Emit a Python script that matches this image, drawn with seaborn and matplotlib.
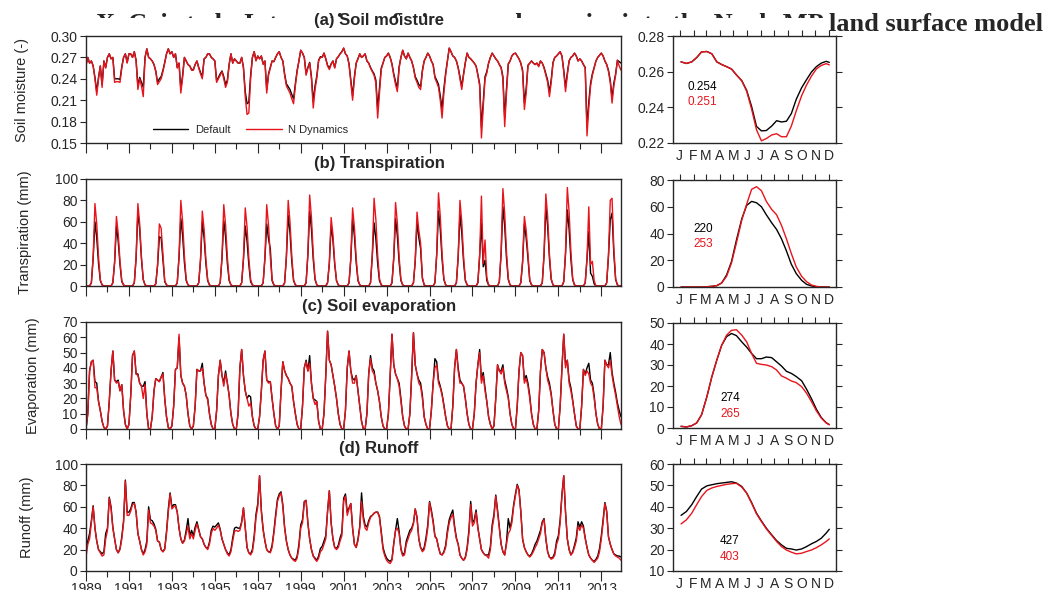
import numpy as np
import pandas as pd
import matplotlib
matplotlib.use("Agg")
import matplotlib.pyplot as plt
import seaborn as sns
from matplotlib.patches import Rectangle

# ---- data ---------------------------------------------------------------
years = list(range(1989, 2014))
month_letters = ["J", "F", "M", "A", "M", "J", "J", "A", "S", "O", "N", "D"]
month_mid_days = [15, 46, 74, 105, 135, 166, 196, 227, 258, 288, 319, 349]
runs = ["Default", "N Dynamics"]

header = "X. Cai et al.: Integration of nitrogen dynamics into the Noah-MP land surface model"
titles = ["(a) Soil moisture", "(b) Transpiration", "(c) Soil evaporation", "(d) Runoff"]
ylabels = ["Soil moisture (-)", "Transpiration (mm)", "Evaporation (mm)", "Runoff (mm)"]
annual_default = ["0.254", "220", "274", "427"]
annual_ndyn = ["0.251", "253", "265", "403"]

# monthly series, Jan 1989 - Dec 2013 (one row per year)
sm_default = [
    .260, .270, .262, .265, .258, .242, .222, .242, .258, .232, .265, .256,
    .270, .275, .268, .270, .240, .240, .240, .239, .257, .270, .275, .263,
    .275, .275, .270, .278, .266, .230, .242, .235, .228, .270, .282, .270,
    .268, .265, .260, .251, .235, .240, .243, .252, .263, .275, .282, .275,
    .278, .270, .275, .256, .262, .225, .245, .270, .265, .260, .258, .253,
    .253, .260, .265, .256, .249, .243, .268, .270, .275, .275, .270, .268,
    .265, .237, .242, .247, .251, .243, .232, .238, .260, .275, .262, .268,
    .265, .262, .262, .270, .256, .222, .205, .207, .245, .270, .278, .266,
    .272, .268, .272, .261, .265, .225, .247, .256, .265, .264, .270, .275,
    .278, .270, .265, .247, .233, .229, .225, .218, .212, .233, .252, .265,
    .280, .276, .270, .247, .256, .263, .243, .208, .230, .244, .266, .271,
    .270, .276, .268, .259, .255, .261, .265, .256, .268, .271, .275, .278,
    .283, .275, .272, .261, .238, .216, .243, .262, .268, .275, .270, .272,
    .275, .265, .262, .256, .251, .247, .238, .198, .226, .255, .262, .270,
    .272, .276, .270, .261, .247, .236, .227, .257, .270, .280, .272, .268,
    .276, .270, .265, .256, .243, .238, .232, .229, .252, .265, .270, .276,
    .272, .265, .260, .243, .238, .232, .216, .198, .226, .248, .265, .283,
    .278, .272, .270, .265, .256, .243, .229, .247, .263, .276, .270, .268,
    .265, .262, .258, .246, .233, .172, .208, .243, .250, .262, .270, .276,
    .272, .268, .265, .260, .256, .243, .185, .226, .261, .265, .272, .275,
    .276, .272, .268, .262, .252, .206, .226, .259, .262, .265, .262, .260,
    .262, .258, .265, .262, .256, .247, .238, .221, .239, .263, .270, .272,
    .275, .278, .272, .252, .228, .248, .265, .270, .272, .276, .272, .265,
    .268, .265, .260, .256, .172, .208, .234, .247, .256, .265, .270, .273,
    .276, .272, .265, .260, .252, .238, .213, .234, .247, .266, .264, .262,
]
sm_ndyn = [
    .258, .270, .262, .265, .258, .240, .217, .240, .258, .228, .265, .255,
    .270, .275, .268, .270, .235, .236, .236, .235, .255, .270, .275, .262,
    .275, .275, .270, .278, .265, .225, .240, .230, .215, .270, .282, .270,
    .268, .265, .260, .250, .232, .236, .240, .250, .262, .275, .282, .275,
    .278, .270, .275, .255, .262, .220, .242, .270, .265, .260, .258, .252,
    .252, .260, .265, .255, .247, .240, .268, .270, .275, .275, .270, .268,
    .265, .235, .240, .245, .250, .240, .228, .235, .260, .275, .262, .268,
    .265, .262, .262, .270, .255, .215, .190, .192, .240, .270, .278, .265,
    .272, .268, .272, .260, .265, .220, .245, .255, .265, .264, .270, .275,
    .278, .270, .265, .245, .230, .225, .220, .212, .205, .230, .250, .265,
    .280, .276, .270, .245, .255, .262, .240, .199, .225, .241, .265, .270,
    .270, .276, .268, .258, .253, .260, .265, .255, .268, .271, .275, .278,
    .283, .275, .272, .260, .235, .210, .240, .262, .268, .275, .270, .272,
    .275, .265, .262, .255, .250, .245, .234, .185, .220, .253, .262, .270,
    .272, .276, .270, .260, .245, .232, .222, .255, .270, .280, .272, .268,
    .276, .270, .265, .255, .241, .235, .228, .225, .250, .265, .270, .276,
    .272, .265, .260, .241, .235, .228, .210, .185, .220, .245, .265, .283,
    .278, .272, .270, .265, .255, .240, .225, .245, .262, .276, .270, .268,
    .265, .262, .258, .245, .230, .157, .200, .240, .248, .262, .270, .276,
    .272, .268, .265, .260, .255, .240, .173, .220, .260, .265, .272, .275,
    .276, .272, .268, .262, .250, .197, .220, .258, .262, .265, .262, .260,
    .262, .257, .265, .262, .255, .245, .235, .215, .235, .262, .270, .272,
    .275, .278, .272, .250, .222, .245, .265, .270, .272, .276, .272, .265,
    .268, .265, .260, .255, .160, .200, .230, .245, .255, .265, .270, .273,
    .276, .272, .265, .260, .250, .235, .206, .230, .245, .266, .258, .252,
]

tr_default = [
    0, 0, 0, 3, 26, 60, 45, 21, 5, 1, 0, 0,
    0, 0, 0, 3, 22, 56, 42, 20, 4, 1, 0, 0,
    0, 0, 0, 3, 26, 70, 53, 25, 6, 1, 0, 0,
    0, 0, 0, 2, 19, 46, 45, 25, 4, 1, 0, 0,
    0, 0, 0, 3, 27, 63, 47, 22, 5, 1, 0, 0,
    0, 0, 0, 3, 24, 60, 45, 21, 5, 1, 0, 0,
    0, 0, 0, 3, 26, 61, 46, 21, 5, 1, 0, 0,
    0, 0, 0, 3, 25, 56, 42, 20, 4, 1, 0, 0,
    0, 0, 0, 3, 26, 58, 44, 35, 5, 1, 0, 0,
    0, 0, 0, 3, 27, 66, 50, 23, 5, 1, 0, 0,
    0, 0, 0, 3, 29, 70, 53, 25, 6, 1, 0, 0,
    0, 0, 0, 3, 21, 57, 43, 20, 5, 1, 0, 0,
    0, 0, 0, 3, 25, 62, 47, 22, 5, 1, 0, 0,
    0, 0, 0, 3, 28, 59, 44, 21, 5, 1, 0, 0,
    0, 0, 0, 3, 26, 63, 47, 22, 5, 1, 0, 0,
    0, 0, 0, 3, 23, 60, 45, 35, 7, 1, 0, 0,
    0, 0, 0, 3, 29, 70, 53, 25, 6, 1, 0, 0,
    0, 0, 0, 3, 27, 67, 50, 23, 5, 1, 0, 0,
    0, 0, 0, 3, 28, 59, 18, 24, 5, 1, 0, 0,
    0, 0, 0, 4, 30, 74, 56, 26, 6, 1, 0, 0,
    0, 0, 0, 3, 22, 58, 45, 26, 5, 1, 0, 0,
    0, 0, 0, 3, 29, 74, 56, 26, 6, 1, 0, 0,
    0, 0, 0, 4, 30, 71, 53, 25, 6, 1, 0, 0,
    0, 0, 0, 3, 25, 51, 12, 9, 2, 0, 0, 0,
    0, 0, 0, 3, 28, 62, 68, 30, 6, 1, 0, 0,
]
tr_ndyn = [
    0, 0, 0, 3, 27, 77, 58, 27, 6, 1, 0, 0,
    0, 0, 0, 3, 23, 65, 49, 23, 5, 1, 0, 0,
    0, 0, 0, 3, 27, 77, 58, 27, 6, 1, 0, 0,
    0, 0, 0, 2, 20, 58, 54, 30, 5, 1, 0, 0,
    0, 0, 0, 3, 28, 80, 60, 28, 6, 1, 0, 0,
    0, 0, 0, 3, 25, 70, 53, 25, 6, 1, 0, 0,
    0, 0, 0, 3, 27, 76, 57, 27, 6, 1, 0, 0,
    0, 0, 0, 3, 26, 73, 55, 26, 6, 1, 0, 0,
    0, 0, 0, 3, 27, 76, 57, 27, 6, 1, 0, 0,
    0, 0, 0, 3, 28, 80, 60, 28, 6, 1, 0, 0,
    0, 0, 0, 3, 30, 85, 64, 30, 7, 1, 0, 0,
    0, 0, 0, 3, 22, 64, 48, 22, 5, 1, 0, 0,
    0, 0, 0, 3, 26, 73, 55, 26, 6, 1, 0, 0,
    0, 0, 0, 3, 29, 82, 62, 29, 7, 1, 0, 0,
    0, 0, 0, 3, 27, 78, 59, 27, 6, 1, 0, 0,
    0, 0, 0, 3, 24, 69, 52, 40, 8, 1, 0, 0,
    0, 0, 0, 3, 30, 87, 65, 30, 7, 1, 0, 0,
    0, 0, 0, 3, 28, 80, 60, 28, 6, 1, 0, 0,
    0, 0, 0, 3, 29, 84, 21, 43, 8, 1, 0, 0,
    0, 0, 0, 4, 32, 91, 68, 32, 7, 1, 0, 0,
    0, 0, 0, 3, 23, 65, 52, 30, 6, 1, 0, 0,
    0, 0, 0, 3, 30, 86, 65, 30, 7, 1, 0, 0,
    0, 0, 0, 4, 32, 92, 69, 32, 7, 1, 0, 0,
    0, 0, 0, 3, 26, 74, 20, 23, 5, 0, 0, 0,
    0, 0, 0, 3, 29, 80, 82, 35, 7, 1, 0, 0,
]

ev_default = [
    0, 10, 38, 44, 45, 31, 30, 18, 12, 5, 1, 0,
    2, 18, 38, 51, 32, 31, 32, 25, 29, 12, 3, 0,
    3, 22, 48, 51, 36, 36, 30, 28, 28, 31, 10, 0,
    0, 8, 25, 33, 32, 31, 34, 37, 20, 8, 1, 0,
    2, 15, 39, 40, 60, 35, 30, 28, 22, 10, 2, 0,
    2, 15, 39, 38, 38, 43, 30, 22, 20, 10, 3, 0,
    0, 12, 35, 45, 35, 30, 38, 30, 22, 10, 3, 0,
    0, 10, 40, 52, 35, 25, 20, 22, 21, 8, 2, 0,
    0, 8, 25, 45, 51, 32, 31, 31, 20, 10, 2, 0,
    2, 25, 44, 38, 35, 33, 30, 28, 18, 10, 3, 0,
    0, 15, 40, 45, 38, 48, 30, 20, 19, 18, 5, 0,
    0, 10, 35, 64, 45, 42, 35, 28, 20, 10, 3, 0,
    0, 12, 40, 51, 38, 33, 32, 35, 25, 15, 5, 0,
    0, 10, 36, 48, 40, 38, 30, 25, 18, 8, 2, 0,
    0, 10, 35, 62, 42, 36, 33, 30, 20, 8, 2, 0,
    0, 10, 35, 63, 42, 36, 32, 30, 22, 8, 3, 0,
    0, 12, 30, 46, 44, 32, 28, 23, 16, 8, 2, 0,
    0, 15, 40, 52, 40, 32, 30, 28, 20, 10, 3, 0,
    0, 10, 30, 42, 52, 32, 37, 27, 18, 8, 3, 0,
    2, 20, 42, 38, 38, 42, 32, 27, 21, 10, 3, 0,
    0, 15, 38, 50, 48, 32, 35, 30, 22, 10, 3, 0,
    0, 12, 38, 52, 50, 40, 34, 30, 23, 12, 3, 0,
    0, 15, 40, 62, 42, 45, 32, 27, 19, 10, 2, 0,
    0, 15, 39, 36, 40, 43, 32, 30, 22, 10, 3, 0,
    0, 15, 45, 42, 42, 50, 37, 30, 24, 17, 12, 8,
]
ev_ndyn = [
    0, 10, 38, 44, 45, 27, 27, 18, 12, 5, 1, 0,
    2, 18, 38, 51, 32, 30, 31, 25, 29, 12, 3, 0,
    3, 22, 48, 51, 36, 35, 30, 28, 20, 29, 10, 0,
    0, 8, 25, 33, 32, 31, 34, 36, 20, 8, 1, 0,
    2, 15, 39, 40, 62, 35, 30, 28, 22, 10, 2, 0,
    2, 15, 39, 38, 38, 40, 30, 22, 19, 10, 3, 0,
    0, 12, 35, 45, 35, 28, 36, 30, 22, 10, 3, 0,
    0, 10, 40, 52, 35, 25, 20, 15, 17, 8, 2, 0,
    0, 8, 25, 45, 51, 32, 30, 31, 20, 10, 2, 0,
    2, 25, 44, 38, 35, 33, 30, 28, 18, 10, 3, 0,
    0, 15, 40, 44, 38, 43, 30, 20, 16, 18, 5, 0,
    0, 10, 35, 64, 45, 42, 35, 28, 20, 10, 3, 0,
    0, 12, 40, 51, 38, 30, 30, 35, 25, 15, 5, 0,
    0, 10, 36, 46, 38, 36, 30, 25, 18, 8, 2, 0,
    0, 10, 35, 62, 42, 36, 33, 28, 18, 8, 2, 0,
    0, 10, 35, 63, 42, 36, 30, 28, 20, 8, 3, 0,
    0, 12, 30, 40, 42, 30, 27, 22, 15, 8, 2, 0,
    0, 15, 40, 52, 38, 30, 30, 28, 20, 10, 3, 0,
    0, 10, 30, 42, 50, 30, 35, 25, 18, 8, 3, 0,
    2, 20, 42, 38, 36, 40, 30, 25, 20, 10, 3, 0,
    0, 15, 38, 50, 48, 30, 33, 28, 20, 10, 3, 0,
    0, 12, 38, 52, 50, 40, 32, 28, 22, 12, 3, 0,
    0, 15, 40, 62, 40, 45, 30, 25, 18, 10, 2, 0,
    0, 15, 39, 35, 38, 36, 30, 28, 20, 10, 3, 0,
    0, 15, 45, 42, 40, 45, 35, 28, 22, 15, 8, 3,
]

ro_default = [
    20, 28, 35, 47, 61, 40, 28, 20, 18, 16, 18, 35,
    40, 69, 60, 41, 30, 20, 17, 21, 32, 47, 85, 55,
    55, 58, 64, 64, 55, 35, 28, 20, 16, 20, 28, 60,
    48, 47, 44, 39, 28, 27, 20, 18, 21, 37, 58, 73,
    60, 62, 62, 55, 40, 30, 26, 29, 38, 49, 33, 38,
    33, 41, 46, 39, 32, 30, 25, 22, 21, 27, 38, 42,
    41, 43, 45, 39, 30, 25, 20, 17, 15, 20, 31, 40,
    41, 40, 40, 46, 59, 40, 22, 17, 16, 20, 33, 53,
    63, 89, 57, 39, 28, 20, 18, 18, 24, 37, 53, 67,
    72, 74, 62, 41, 28, 20, 15, 12, 11, 10, 14, 25,
    43, 48, 65, 66, 45, 30, 20, 14, 12, 10, 14, 21,
    23, 28, 33, 56, 75, 45, 30, 22, 21, 24, 31, 36,
    68, 72, 55, 59, 63, 40, 25, 22, 30, 42, 73, 51,
    43, 41, 47, 51, 52, 54, 55, 55, 51, 37, 22, 16,
    12, 10, 9, 11, 26, 38, 49, 37, 21, 15, 17, 28,
    33, 38, 40, 45, 58, 50, 30, 22, 19, 22, 31, 43,
    65, 57, 47, 33, 30, 22, 16, 15, 18, 24, 38, 48,
    53, 57, 42, 31, 25, 15, 12, 10, 13, 22, 38, 65,
    45, 48, 57, 41, 30, 20, 17, 15, 15, 15, 23, 43,
    53, 71, 57, 41, 25, 18, 15, 27, 49, 40, 48, 62,
    72, 81, 76, 56, 30, 22, 18, 15, 14, 16, 20, 25,
    28, 33, 38, 46, 49, 30, 18, 13, 12, 13, 17, 28,
    33, 48, 72, 89, 55, 30, 20, 15, 18, 24, 31, 46,
    41, 46, 42, 31, 22, 15, 12, 10, 9, 11, 14, 21,
    33, 48, 64, 56, 32, 25, 20, 16, 15, 14, 14, 13,
]
ro_ndyn = [
    13, 25, 30, 45, 60, 40, 28, 20, 17, 14, 15, 30,
    38, 68, 58, 40, 30, 20, 17, 20, 30, 45, 84, 52,
    52, 56, 62, 63, 55, 35, 28, 20, 15, 18, 25, 57,
    45, 44, 42, 38, 28, 27, 20, 18, 20, 35, 55, 72,
    58, 60, 61, 55, 40, 30, 26, 28, 35, 42, 30, 35,
    30, 38, 44, 38, 32, 30, 25, 22, 20, 25, 35, 40,
    38, 40, 43, 38, 30, 25, 20, 16, 14, 18, 28, 37,
    38, 37, 38, 45, 59, 40, 22, 17, 15, 18, 30, 50,
    60, 89, 55, 38, 28, 20, 18, 17, 22, 35, 50, 65,
    70, 73, 60, 40, 28, 20, 15, 12, 10, 9, 12, 22,
    40, 45, 64, 66, 45, 30, 20, 14, 11, 9, 12, 18,
    20, 25, 30, 55, 75, 45, 30, 22, 20, 22, 28, 33,
    65, 70, 52, 58, 63, 40, 25, 22, 28, 40, 65, 48,
    40, 38, 45, 50, 52, 54, 55, 55, 50, 35, 20, 14,
    10, 8, 7, 10, 25, 38, 40, 35, 20, 14, 15, 25,
    30, 35, 38, 44, 58, 50, 30, 22, 18, 20, 28, 40,
    64, 55, 45, 32, 30, 22, 16, 15, 17, 22, 35, 45,
    50, 53, 40, 30, 25, 15, 12, 10, 12, 20, 35, 62,
    42, 45, 55, 40, 30, 20, 17, 15, 14, 12, 20, 40,
    50, 70, 55, 40, 25, 18, 15, 25, 35, 38, 45, 60,
    70, 80, 75, 55, 30, 22, 18, 15, 13, 15, 18, 22,
    25, 30, 35, 45, 48, 30, 18, 13, 11, 12, 15, 25,
    30, 45, 70, 89, 55, 30, 20, 15, 17, 22, 28, 42,
    38, 43, 40, 30, 22, 15, 12, 10, 8, 10, 12, 18,
    30, 45, 63, 55, 32, 25, 20, 16, 14, 13, 12, 10,
]

# mean seasonal cycle (day of year)
clim_day = [18, 30, 42, 53, 64, 76, 87, 98, 109, 120, 131, 142, 154, 165, 176, 187,
            198, 209, 221, 232, 243, 254, 265, 276, 288, 299, 310, 321, 332, 343, 350]
sm_clim_default = [0.2655, 0.2646, 0.2655, 0.2679, 0.2711, 0.2713, 0.2700, 0.2655, 0.2640, 0.2628, 0.2615,
                   0.2582, 0.2550, 0.2495, 0.2405, 0.2293, 0.2268, 0.2270, 0.2295, 0.2325, 0.2318, 0.2322,
                   0.2365, 0.2445, 0.2510, 0.2555, 0.2598, 0.2628, 0.2648, 0.2658, 0.2652]
sm_clim_ndyn = [0.2655, 0.2646, 0.2655, 0.2679, 0.2711, 0.2713, 0.2700, 0.2655, 0.2640, 0.2628, 0.2615,
                0.2582, 0.2548, 0.2490, 0.2390, 0.2274, 0.2212, 0.2225, 0.2245, 0.2252, 0.2235, 0.2235,
                0.2295, 0.2380, 0.2465, 0.2525, 0.2575, 0.2615, 0.2635, 0.2645, 0.2638]
tr_clim_default = [0, 0, 0, 0, 0, 0.2, 0.5, 1, 3, 9, 19, 35, 51, 61, 64, 63,
                   60, 54, 48, 43, 36, 27, 17, 10, 5, 2, 0.8, 0.2, 0, 0, 0]
tr_clim_ndyn = [0, 0, 0, 0, 0, 0.2, 0.5, 1, 3, 8, 18, 33, 50, 62, 73, 75,
                72, 64, 58, 54, 46, 36, 25, 15, 8, 4, 1.5, 0.5, 0, 0, 0]
ev_clim_default = [0.8, 0.5, 1.1, 2.4, 6.3, 15, 24.4, 32.3, 39.4, 43.5, 45, 44, 41, 38.5, 35.5, 33,
                   33, 33.8, 33.5, 31.5, 29.5, 27, 26, 24.5, 22.5, 18.5, 14, 9, 5, 2.5, 1.6]
ev_clim_ndyn = [0.8, 0.5, 1.1, 2.4, 6.3, 15, 24.4, 32.3, 39.4, 44.2, 46.5, 46.8, 44.2, 41, 35.5, 30.8,
                30.3, 30, 29.2, 27.6, 24.8, 23.7, 22.4, 21.6, 19.7, 16.6, 12.6, 8.2, 4.7, 2.4, 1.6]
ro_clim_default = [36, 37.8, 41, 44.8, 48.3, 49.8, 50.3, 50.8, 51.1, 51.4, 51.7, 51.1, 49.5, 46.4, 42, 37,
                   33.4, 30, 26.9, 24.2, 22.2, 20.6, 20.3, 19.8, 20.3, 21.4, 22.7, 23.8, 25.3, 27.7, 29.5]
ro_clim_ndyn = [32, 33.9, 37, 41, 44.8, 47.7, 48.8, 49.5, 50, 50.5, 50.8, 51, 49.2, 46.4, 41.7, 36.7,
                33.1, 29.7, 26.6, 23.8, 21.4, 19.8, 18.8, 18, 18.3, 19.1, 19.8, 20.9, 22.2, 23.8, 25]

# ---- layout -------------------------------------------------------------
W, H = 1057, 590
RED = "#e8141c"
palette = {"Default": "black", "N Dynamics": RED}

left_ylim = [(0.15, 0.30), (0, 100), (0, 70), (0, 100)]
left_yticks = [np.arange(0.15, 0.301, 0.03), np.arange(0, 101, 20), np.arange(0, 71, 10), np.arange(0, 101, 20)]
right_ylim = [(0.22, 0.28), (0, 80), (0, 50), (10, 60)]
right_yticks = [np.arange(0.22, 0.281, 0.02), np.arange(0, 81, 20), np.arange(0, 51, 10), np.arange(10, 61, 10)]
left_rows = [(36, 143), (179, 286), (322, 429), (464, 571)]
right_rows = [(36, 143), (180, 287), (323, 428), (464, 571)]
ylabel_x = [-0.106, -0.101, -0.086, -0.097]
note_pos = [(0.092, 0.523, 0.383), (0.123, 0.542, 0.402), (0.288, 0.286, 0.133), (0.288, 0.280, 0.131)]
tick_fmt = ["{:.2f}", "{:.0f}", "{:.0f}", "{:.0f}"]


def px_axes(fig, left, top, right, bottom):
    # axes placed by pixel edges of the 1057x590 canvas
    return fig.add_axes([left / W, 1 - bottom / H, (right - left) / W, (bottom - top) / H])


def long_frame(x, default, ndyn):
    n = len(default)
    return pd.DataFrame({"x": list(x) * 2,
                         "value": list(default) + list(ndyn),
                         "run": ["Default"] * n + ["N Dynamics"] * n})


sns.set_style("ticks")
plt.rcParams["font.family"] = ["Liberation Sans", "DejaVu Sans"]
plt.rcParams["axes.linewidth"] = 1.0

fig = plt.figure(figsize=(W / 100, H / 100), dpi=100)
fig.patch.set_facecolor("white")

# page header that sits behind the figure panel
fig.text(1043 / W, 1 - 31 / H, header, ha="right", va="baseline", fontsize=19,
         fontweight="bold", family=["Liberation Serif", "DejaVu Serif"], zorder=1)
fig.patches.append(Rectangle((0, 0), 828 / W, 1 - 18 / H, transform=fig.transFigure,
                             facecolor="white", edgecolor="none", zorder=2))

monthly = [(sm_default, sm_ndyn), (tr_default, tr_ndyn), (ev_default, ev_ndyn), (ro_default, ro_ndyn)]
clim = [(sm_clim_default, sm_clim_ndyn), (tr_clim_default, tr_clim_ndyn),
        (ev_clim_default, ev_clim_ndyn), (ro_clim_default, ro_clim_ndyn)]
month_index = np.arange(len(years) * 12)

for i in range(4):
    # left: monthly time series
    ax = px_axes(fig, 86, left_rows[i][0], 621, left_rows[i][1])
    ax.set_zorder(3)
    df = long_frame(month_index, *monthly[i])
    sns.lineplot(data=df, x="x", y="value", hue="run", hue_order=runs, palette=palette,
                 estimator=None, linewidth=1.0, ax=ax, legend=(i == 0))
    ax.set_xlim(0, len(month_index) - 1)
    ax.set_ylim(*left_ylim[i])
    ax.set_yticks(left_yticks[i])
    ax.set_yticklabels([tick_fmt[i].format(v) for v in left_yticks[i]])
    ax.set_xticks(month_index[::24])
    ax.set_xticks(month_index[12::24], minor=True)
    if i == 3:
        ax.set_xticklabels([str(y) for y in years[::2]])
    else:
        ax.set_xticklabels([])
    ax.tick_params(axis="y", direction="out", length=4, width=0.8, labelsize=10, pad=2)
    ax.tick_params(axis="x", which="major", direction="out", length=7, width=0.8, labelsize=10, pad=1)
    ax.tick_params(axis="x", which="minor", direction="out", length=4, width=0.8)
    ax.set_xlabel("")
    ax.set_ylabel(ylabels[i], fontsize=10.5)
    ax.yaxis.set_label_coords(ylabel_x[i], 0.5)
    ax.text(0.548, 1 + 15.5 / 107, titles[i], transform=ax.transAxes, ha="center",
            va="center", fontsize=12, fontweight="bold")
    if i == 0:
        handles, labels = ax.get_legend_handles_labels()
        ax.legend(handles, labels, loc="center left", bbox_to_anchor=(0.125, 0.12), ncol=2,
                  frameon=False, fontsize=8, handlelength=3.2, handletextpad=0.6,
                  columnspacing=1.4, borderpad=0, borderaxespad=0)

    # right: mean seasonal cycle
    axr = px_axes(fig, 673, right_rows[i][0], 836, right_rows[i][1])
    axr.set_zorder(3)
    dfc = long_frame(clim_day, *clim[i])
    sns.lineplot(data=dfc, x="x", y="value", hue="run", hue_order=runs, palette=palette,
                 estimator=None, linewidth=1.0, ax=axr, legend=False)
    axr.set_xlim(0, 365)
    axr.set_ylim(*right_ylim[i])
    axr.set_yticks(right_yticks[i])
    axr.set_yticklabels([tick_fmt[i].format(v) for v in right_yticks[i]])
    axr.set_xticks(month_mid_days)
    axr.set_xticklabels(month_letters)
    axr.tick_params(axis="x", top=True, bottom=False, labeltop=False, labelbottom=True,
                    direction="out", length=4, width=0.8, labelsize=10, pad=0.5)
    axr.tick_params(axis="y", left=True, right=True, labelright=False,
                    direction="out", length=4, width=0.8, labelsize=10, pad=2)
    axr.set_xlabel("")
    axr.set_ylabel("")
    nx, ny1, ny2 = note_pos[i]
    axr.text(nx, ny1, annual_default[i], transform=axr.transAxes, ha="left", va="center",
             fontsize=8.5, color="black")
    axr.text(nx, ny2, annual_ndyn[i], transform=axr.transAxes, ha="left", va="center",
             fontsize=8.5, color=RED)

fig.savefig("out.png", dpi=100, facecolor="white")
